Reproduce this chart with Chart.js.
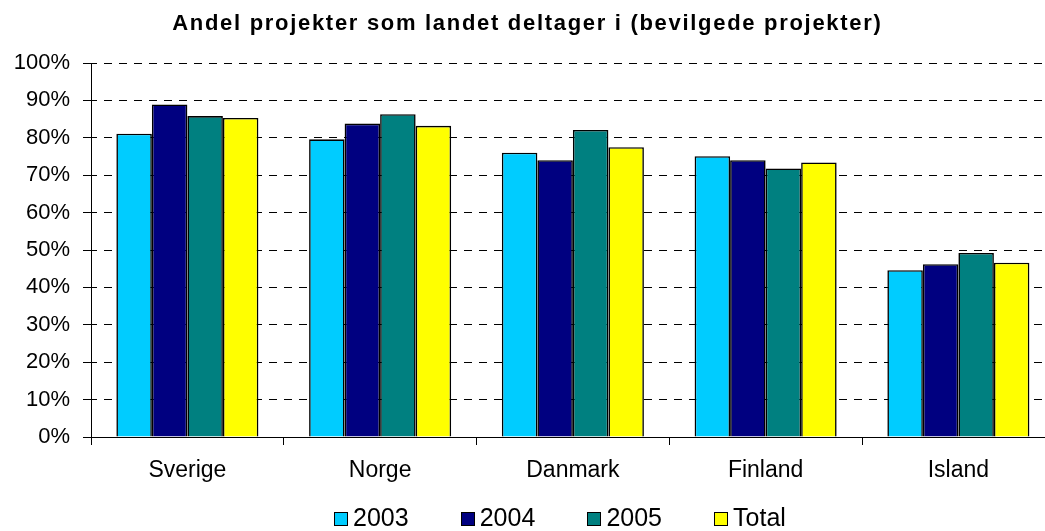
<!DOCTYPE html>
<html>
<head>
<meta charset="utf-8">
<script src="https://cdn.jsdelivr.net/npm/chart.js@4.4.1/dist/chart.umd.min.js"></script>
<style>
  html, body { margin: 0; padding: 0; background: #fff; overflow: hidden; width: 1045px; height: 531px; }
  #wrap { position: relative; width: 1058px; height: 531px; }
  #c { position: absolute; left: 0; top: 0; }
  #legend { position: absolute; left: 334px; top: 505px; display: flex; font-family: "Liberation Sans", Arial, sans-serif; font-size: 25px; line-height: 25px; color: #000; }
  .item { display: flex; align-items: baseline; width: 126.7px; }
  .box { width: 14px; height: 14px; box-sizing: border-box; border: 1.5px solid #000; margin-right: 5px; flex: none; }
</style>
</head>
<body>
<div id="wrap">
  <canvas id="c" width="1058" height="531"></canvas>
  <div id="legend"></div>
</div>
<script>
const titleText = "Andel projekter som landet deltager i (bevilgede projekter)";
const categories = ["Sverige", "Norge", "Danmark", "Finland", "Island"];
const seriesNames = ["2003", "2004", "2005", "Total"];
const values2003  = [81.1, 79.6, 76.0, 75.1, 44.6];
const values2004  = [88.9, 83.8, 74.0, 74.0, 46.2];
const values2005  = [85.8, 86.3, 82.1, 71.8, 49.2];
const valuesTotal = [85.3, 83.2, 77.5, 73.4, 46.6];
const seriesColors = ["#00CCFF", "#000080", "#008080", "#FFFF00"];
const yTicks = [0, 10, 20, 30, 40, 50, 60, 70, 80, 90, 100];

const FONT = '"Liberation Sans", Arial, sans-serif';
const seriesValues = [values2003, values2004, values2005, valuesTotal];

const datasets = seriesNames.map((name, i) => ({
  label: name,
  data: seriesValues[i],
  backgroundColor: seriesColors[i],
  borderColor: "#000",
  borderWidth: 1.6,
  barPercentage: 1.0,
  categoryPercentage: 0.737
}));

const titleSpacing = {
  id: 'titleSpacing',
  beforeDraw(chart) {
    const t = chart.titleBlock;
    if (t && !t._lsPatched) {
      const orig = t.draw.bind(t);
      t.draw = function() {
        const ctx = this.ctx;
        const prev = ctx.letterSpacing;
        ctx.letterSpacing = '1.7px';
        orig();
        ctx.letterSpacing = prev || '0px';
      };
      t._lsPatched = true;
    }
  }
};

const chart = new Chart(document.getElementById('c'), {
  type: 'bar',
  data: { labels: categories, datasets },
  plugins: [titleSpacing],
  options: {
    responsive: false,
    animation: false,
    layout: { padding: { left: 0, right: 3.25, top: 0, bottom: 34 } },
    plugins: {
      legend: { display: false },
      tooltip: { enabled: false },
      title: {
        display: true,
        text: titleText,
        color: '#000',
        font: { family: FONT, size: 22, weight: 'bold', lineHeight: 1.2 },
        padding: { top: 10.8, bottom: 25.8 }
      }
    },
    scales: {
      x: {
        offset: true,
        grid: { display: true, offset: true, drawOnChartArea: false, drawTicks: true, tickLength: 8, color: '#000', lineWidth: 1 },
        border: { display: true, color: '#000', width: 1 },
        ticks: { color: '#000', font: { family: FONT, size: 23, lineHeight: 1.2 }, padding: 12.2, maxRotation: 0 }
      },
      y: {
        min: 0, max: 100,
        afterBuildTicks(scale) { scale.ticks = yTicks.map(v => ({ value: v })); },
        afterFit(scale) { scale.width = 91; },
        grid: { display: true, drawOnChartArea: true, drawTicks: true, tickLength: 8, color: '#000', lineWidth: 1, tickBorderDash: [] },
        border: { display: true, color: '#000', width: 1, dash: [8, 7], dashOffset: 3 },
        ticks: { color: '#000', font: { family: FONT, size: 22 }, padding: 13, callback: v => v + '%' }
      }
    }
  }
});

const legend = document.getElementById('legend');
chart.data.datasets.forEach(ds => {
  const item = document.createElement('div');
  item.className = 'item';
  const box = document.createElement('span');
  box.className = 'box';
  box.style.background = ds.backgroundColor;
  const txt = document.createElement('span');
  txt.textContent = ds.label;
  item.appendChild(box);
  item.appendChild(txt);
  legend.appendChild(item);
});
</script>
</body>
</html>
